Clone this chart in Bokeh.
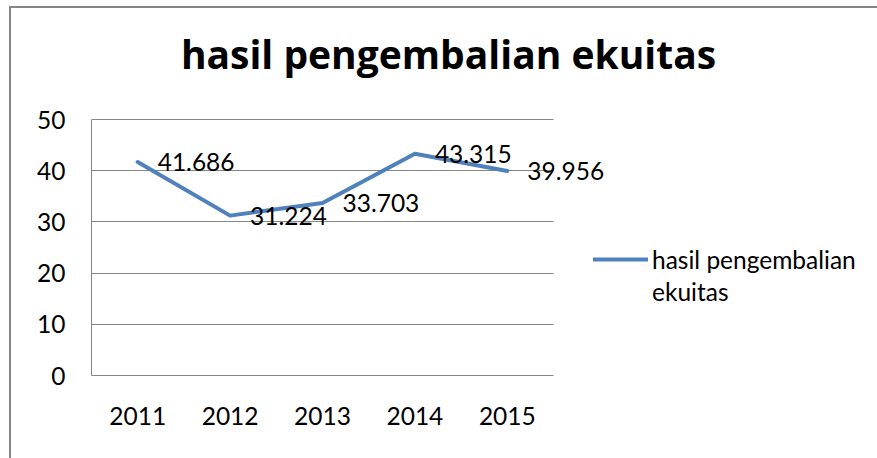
from bokeh.plotting import figure
from bokeh.models import (ColumnDataSource, LabelSet, Label, Legend, LegendItem,
                          FixedTicker, Range1d)
from bokeh.core.properties import value
from bokeh.embed import file_html
from bokeh.resources import INLINE

# ---- data ----
years = ["2011", "2012", "2013", "2014", "2015"]
values = [41.686, 31.224, 33.703, 43.315, 39.956]
value_labels = ["41.686", "31.224", "33.703", "43.315", "39.956"]
y_ticks = [0, 10, 20, 30, 40, 50]
title_text = "hasil pengembalian ekuitas"
legend_line1 = "hasil pengembalian"
legend_line2 = "ekuitas"

FONT = "Lato"
TITLE_FONT = "Open Sans"
FS = "24.5px"
GRAY = "#868686"
BLUE = "#4F81BD"
TXT = "#000000"

# category positions (centre of each category slot)
xpos = [i + 0.5 for i in range(len(years))]
n_cat = len(years)
y_max = y_ticks[-1]

PX_X = 92.4   # px per category
PX_Y = 5.12   # px per y unit
FRAME_W = 786
FRAME_H = 367

src = ColumnDataSource(dict(x=xpos, val=values, txt=value_labels))

p = figure(x_range=Range1d(0, FRAME_W / PX_X), y_range=Range1d(0, FRAME_H / PX_Y),
           output_backend="svg", toolbar_location=None,
           frame_width=FRAME_W, frame_height=FRAME_H,
           min_border_left=80, min_border_right=0, min_border_top=0,
           min_border_bottom=83)
p.outline_line_color = None
p.background_fill_color = "white"
p.border_fill_color = "white"
p.styles = {"margin-left": "9px", "margin-top": "6px",
            "border-top": "2px solid " + GRAY, "border-left": "2px solid " + GRAY}

r = p.line(x="x", y="val", source=src, line_color=BLUE, line_width=4,
           line_join="round", line_cap="round")
dummy = p.line(x=[], y=[], line_alpha=0)

labels = LabelSet(x="x", y="val", text="txt", source=src, x_offset=20,
                  text_baseline="middle", text_align="left",
                  text_font=value(FONT), text_font_size=value(FS),
                  text_color=TXT)
p.add_layout(labels)

# axes
p.xaxis.ticker = FixedTicker(ticks=xpos)
p.xaxis.major_label_overrides = {x: y for x, y in zip(xpos, years)}
p.xaxis.bounds = (0, n_cat)
p.yaxis.ticker = FixedTicker(ticks=y_ticks)
p.yaxis.bounds = (0, y_max)
for ax in (p.xaxis[0], p.yaxis[0]):
    ax.axis_line_color = GRAY
    ax.axis_line_width = 1
    ax.major_tick_in = 0
    ax.major_tick_out = 0
    ax.minor_tick_line_color = None
    ax.major_label_text_font = FONT
    ax.major_label_text_font_size = FS
    ax.major_label_text_color = TXT
p.yaxis.major_label_standoff = 26
p.xaxis.major_label_standoff = 31
p.xgrid.grid_line_color = None
p.ygrid.ticker = FixedTicker(ticks=y_ticks)
p.ygrid.cross_bounds = (0, n_cat)
p.ygrid.grid_line_color = GRAY
p.ygrid.grid_line_width = 1

# title
p.add_layout(Label(x=(448 - 91) / PX_X, y=(375 - 53) / PX_Y, text=title_text,
                   text_align="center", text_baseline="alphabetic",
                   text_font=TITLE_FONT, text_font_style="bold",
                   text_font_size="39px", text_color=TXT))

# legend
legend = Legend(items=[LegendItem(label=legend_line1, renderers=[r]),
                       LegendItem(label=legend_line2, renderers=[dummy])],
                location=(502, 69), padding=0, margin=0, spacing=2,
                glyph_width=55, glyph_height=30, label_height=30,
                label_standoff=4, border_line_color=None,
                background_fill_alpha=0, label_text_font=FONT,
                label_text_font_size=FS, label_text_color=TXT)
p.add_layout(legend)

open("out.html", "w").write(file_html(p, INLINE))
